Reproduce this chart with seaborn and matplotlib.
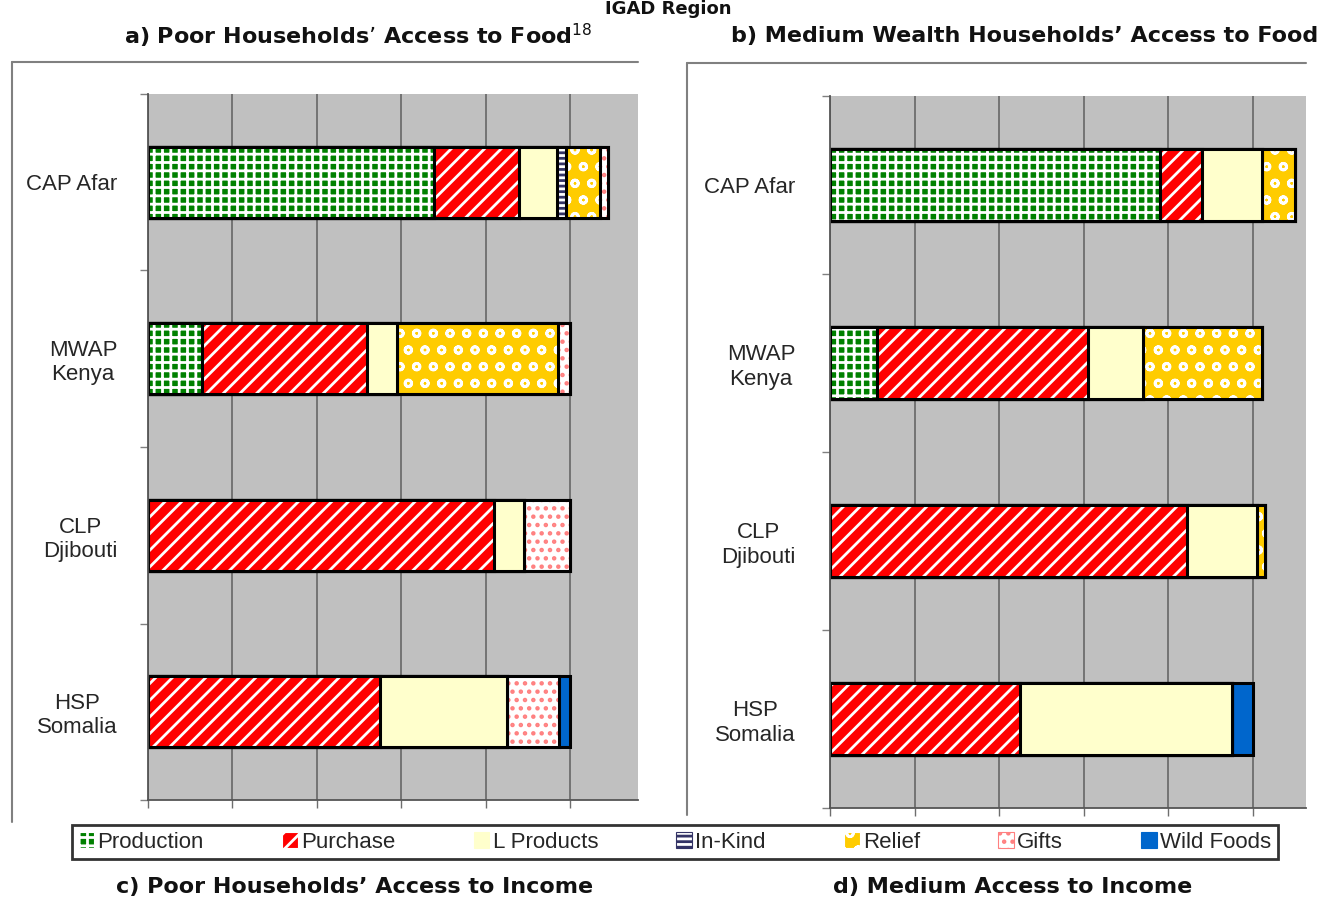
import numpy as np
import pandas as pd
import matplotlib.pyplot as plt
import seaborn as sns
from matplotlib.lines import Line2D

# Data (% of food needs)
regions = ["CAP Afar", "MWAP\nKenya", "CLP\nDjibouti", "HSP\nSomalia"]
components = ["Production", "Purchase", "L Products", "In-Kind", "Relief", "Gifts", "Wild Foods"]

# a) Poor households
poor_production = [67.8, 12.9, 0, 0]
poor_purchase = [20.1, 38.9, 82.0, 55.0]
poor_lproducts = [8.9, 7.1, 6.9, 30.0]
poor_inkind = [2.1, 0, 0, 0]
poor_relief = [8.2, 38.1, 0, 0]
poor_gifts = [1.8, 2.8, 11.1, 12.4]
poor_wild = [0, 0, 0, 2.6]

# b) Medium wealth households
mid_production = [77.9, 11.0, 0, 0]
mid_purchase = [10.0, 50.0, 84.4, 44.9]
mid_lproducts = [14.2, 13.0, 16.5, 50.0]
mid_inkind = [0, 0, 0, 0]
mid_relief = [7.9, 28.1, 2.0, 0]
mid_gifts = [0, 0, 0, 0]
mid_wild = [0, 0, 0, 5.1]

# style for each component: face colour, hatch, hatch colour
face = {"Production": "#008000", "Purchase": "#FF0000", "L Products": "#FFFFCC",
        "In-Kind": "white", "Relief": "#FFCC00", "Gifts": "white", "Wild Foods": "#0066CC"}
hatches = {"Production": "++", "Purchase": "//", "L Products": None,
           "In-Kind": "---", "Relief": "o", "Gifts": "..", "Wild Foods": None}
hatch_col = {"Production": "white", "Purchase": "white", "L Products": "#FFFFCC",
             "In-Kind": "#333366", "Relief": "white", "Gifts": "#FF8080", "Wild Foods": "#0066CC"}

sns.set_style("white")
plt.rcParams["font.family"] = ["Liberation Sans", "DejaVu Sans"]
plt.rcParams["hatch.linewidth"] = 2.0

fig = plt.figure(figsize=(13.33, 9), dpi=100)
W, H = 1333, 900


def ax_at(x0, y0, x1, y1):
    return fig.add_axes([x0 / W, 1 - y1 / H, (x1 - x0) / W, (y1 - y0) / H])


def draw_panel(ax, cols, xmax, pad):
    df = pd.DataFrame(dict(zip(components, cols)))
    cum = df.cumsum(axis=1)
    cum["region"] = regions
    # overlay cumulative bars, longest first, to get stacked bars
    for comp in components[::-1]:
        sns.barplot(data=cum, x=comp, y="region", orient="y", ax=ax, width=0.4,
                    color=face[comp], saturation=1, hatch=hatches[comp],
                    edgecolor=hatch_col[comp], linewidth=0, errorbar=None,
                    label=comp)
        sns.barplot(data=cum, x=comp, y="region", orient="y", ax=ax, width=0.4,
                    fill=False, color="black", linewidth=2.2, errorbar=None)
    ax.set_facecolor("#C0C0C0")
    ax.set_xlim(0, xmax)
    ax.set_ylim(3.5, -0.5)
    ax.set_xticks(np.arange(0, 101, 20))
    ax.set_xticklabels([])
    ax.set_xlabel("")
    ax.set_ylabel("")
    ax.xaxis.grid(True, color="#6E6E6E", linewidth=1.3)
    ax.yaxis.grid(False)
    ax.set_axisbelow(True)
    ax.tick_params(axis="x", bottom=True, length=6, color="#6E6E6E", width=1)
    ax.tick_params(axis="y", which="major", length=0, pad=pad, labelsize=16)
    ax.set_yticks(np.arange(-0.5, 3.6, 1), minor=True)
    ax.tick_params(axis="y", which="minor", left=True, length=6, color="#808080", width=1)
    for lbl in ax.get_yticklabels():
        lbl.set_multialignment("center")
    for s in ["top", "right"]:
        ax.spines[s].set_visible(False)
    for s in ["left", "bottom"]:
        ax.spines[s].set_color("#555555")
        ax.spines[s].set_linewidth(1.3)
    if ax.get_legend() is not None:
        ax.get_legend().remove()


ax_a = ax_at(148, 94, 638, 800)
ax_b = ax_at(830, 96, 1306, 808)

draw_panel(ax_a, [poor_production, poor_purchase, poor_lproducts, poor_inkind,
                  poor_relief, poor_gifts, poor_wild], 116, 22)
draw_panel(ax_b, [mid_production, mid_purchase, mid_lproducts, mid_inkind,
                  mid_relief, mid_gifts, mid_wild], 112.5, 25)

# chart-area frames (cut off on the right like the source)
for (x0, y0, x1, y1) in [(12, 62, 638, 822), (687, 63, 1306, 815)]:
    fig.add_artist(Line2D([x0 / W, x1 / W], [1 - y0 / H, 1 - y0 / H], color="#808080", lw=1.5))
    fig.add_artist(Line2D([x0 / W, x0 / W], [1 - y0 / H, 1 - y1 / H], color="#808080", lw=1.5))

# legend
handles, labels = ax_a.get_legend_handles_labels()
hl = dict(zip(labels, handles))
leg = fig.legend([hl[c] for c in components], components, ncol=7,
                 loc="center", mode="expand",
                 bbox_to_anchor=(72 / W, 1 - 862 / H, (1278 - 72) / W, 40 / H),
                 fontsize=16, frameon=True, fancybox=False, edgecolor="black",
                 handlelength=0.7, handleheight=0.7, handletextpad=0.15,
                 borderaxespad=0, borderpad=0.3, columnspacing=1.0)
leg.get_frame().set_linewidth(2)
leg._legend_box.align = "left"
for p in leg.get_patches():
    p.set_linewidth(0.8)

# titles
tfont = dict(family="DejaVu Sans", fontweight="bold", color="#111111")
fig.text(668 / W, 1 - 9 / H, "IGAD Region", ha="center", va="center", fontsize=13, **tfont)
fig.text(358 / W, 1 - 36 / H, "a) Poor Households\u2019 Access to Food$^{18}$", ha="center", va="center", fontsize=16, **tfont)
fig.text(1025 / W, 1 - 36 / H, "b) Medium Wealth Households\u2019 Access to Food", ha="center", va="center", fontsize=16, **tfont)
fig.text(355 / W, 1 - 887 / H, "c) Poor Households\u2019 Access to Income", ha="center", va="center", fontsize=16, **tfont)
fig.text(1013 / W, 1 - 887 / H, "d) Medium Access to Income", ha="center", va="center", fontsize=16, **tfont)

fig.savefig("out.png", dpi=100)
